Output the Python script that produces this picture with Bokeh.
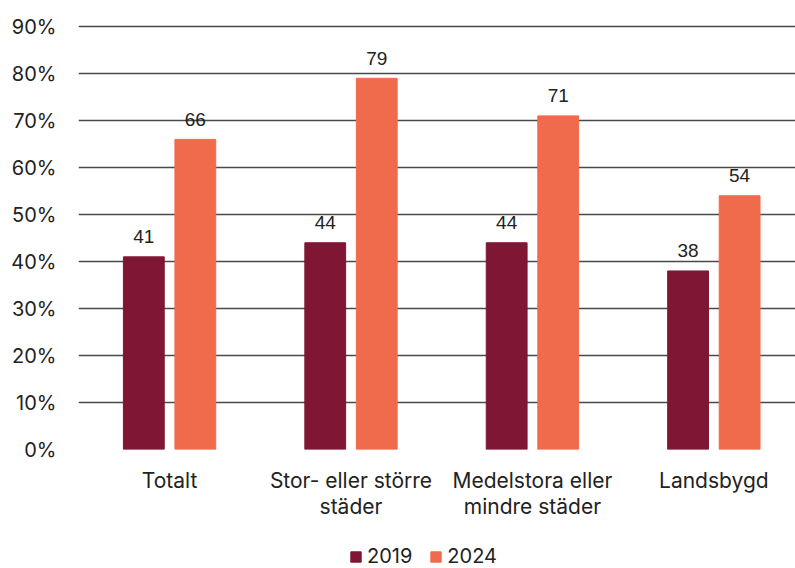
from bokeh.plotting import figure
from bokeh.layouts import column
from bokeh.models import ColumnDataSource, Legend, LegendItem, FixedTicker, Range1d
from bokeh.embed import file_html
from bokeh.resources import INLINE
from bokeh.core.properties import value

categories = ["Totalt", "Stor- eller större\nstäder", "Medelstora eller\nmindre städer", "Landsbygd"]
values_2019 = [41, 44, 44, 38]
values_2024 = [66, 79, 71, 54]
series = ["2019", "2024"]
colors = ["#7f1734", "#f06b4c"]
y_ticks = [0, 10, 20, 30, 40, 50, 60, 70, 80, 90]

xs = list(range(len(categories)))
off = 0.142
w = 0.225

src19 = ColumnDataSource(dict(x=[x - off for x in xs], top=values_2019,
                              lab=[str(v) for v in values_2019]))
src24 = ColumnDataSource(dict(x=[x + off for x in xs], top=values_2024,
                              lab=[str(v) for v in values_2024]))

p = figure(width=795, height=540, output_backend="svg", toolbar_location=None,
           x_range=Range1d(-0.502, 3.45), y_range=Range1d(0, 91.3),
           min_border_left=78, min_border_right=0, min_border_top=20, min_border_bottom=91)
p.outline_line_color = None
p.background_fill_color = "white"

r1 = p.vbar(x="x", top="top", width=w, bottom=0, source=src19, color=colors[0])
r2 = p.vbar(x="x", top="top", width=w, bottom=0, source=src24, color=colors[1])

for s in (src19, src24):
    p.text(x="x", y="top", text="lab", source=s, text_align="center", text_baseline="alphabetic",
           y_offset=-20, text_font=value("Liberation Sans"), text_font_size="19px",
           text_color="#222222")

p.ygrid.ticker = FixedTicker(ticks=y_ticks)
p.ygrid.grid_line_color = "#4a4a4a"
p.ygrid.grid_line_width = 1.3
p.xgrid.grid_line_color = None

p.yaxis.ticker = FixedTicker(ticks=y_ticks)
p.yaxis.major_label_overrides = {t: f"{t}%" for t in y_ticks}
p.xaxis.ticker = FixedTicker(ticks=xs)
p.xaxis.major_label_overrides = {i: c for i, c in enumerate(categories)}

for ax in (p.xaxis, p.yaxis):
    ax.axis_line_color = None
    ax.major_tick_line_color = None
    ax.minor_tick_line_color = None
    ax.major_label_text_font = "Inter"
    ax.major_label_text_color = "#222222"
p.yaxis.major_label_text_font_size = "20px"
p.xaxis.major_label_text_font_size = "21px"
p.yaxis.major_label_standoff = 16
p.xaxis.major_label_standoff = 12
p.xaxis.major_label_text_line_height = 1.05

# legend strip below the chart
lg = figure(width=795, height=28, output_backend="svg", toolbar_location=None,
            x_range=Range1d(0, 1), y_range=Range1d(0, 1),
            min_border_left=0, min_border_right=0, min_border_top=0, min_border_bottom=0,
            x_axis_type=None, y_axis_type=None)
lg.outline_line_color = None
lg.xgrid.grid_line_color = None
lg.ygrid.grid_line_color = None
hidden = dict(x=[5], top=[1])
l1 = lg.vbar(x="x", top="top", width=0.1, source=ColumnDataSource(hidden), color=colors[0])
l2 = lg.vbar(x="x", top="top", width=0.1, source=ColumnDataSource(hidden), color=colors[1])
legend = Legend(items=[LegendItem(label=series[0], renderers=[l1]),
                       LegendItem(label=series[1], renderers=[l2])],
                orientation="horizontal", location=(271, 0),
                glyph_width=13, glyph_height=13, label_standoff=5, spacing=17,
                padding=0, margin=0, border_line_color=None, background_fill_alpha=0,
                label_text_font="Inter", label_text_font_size="20px",
                label_text_color="#222222")
lg.add_layout(legend, "center")

layout = column(p, lg, spacing=0)
open("out.html", "w").write(file_html(layout, INLINE))
